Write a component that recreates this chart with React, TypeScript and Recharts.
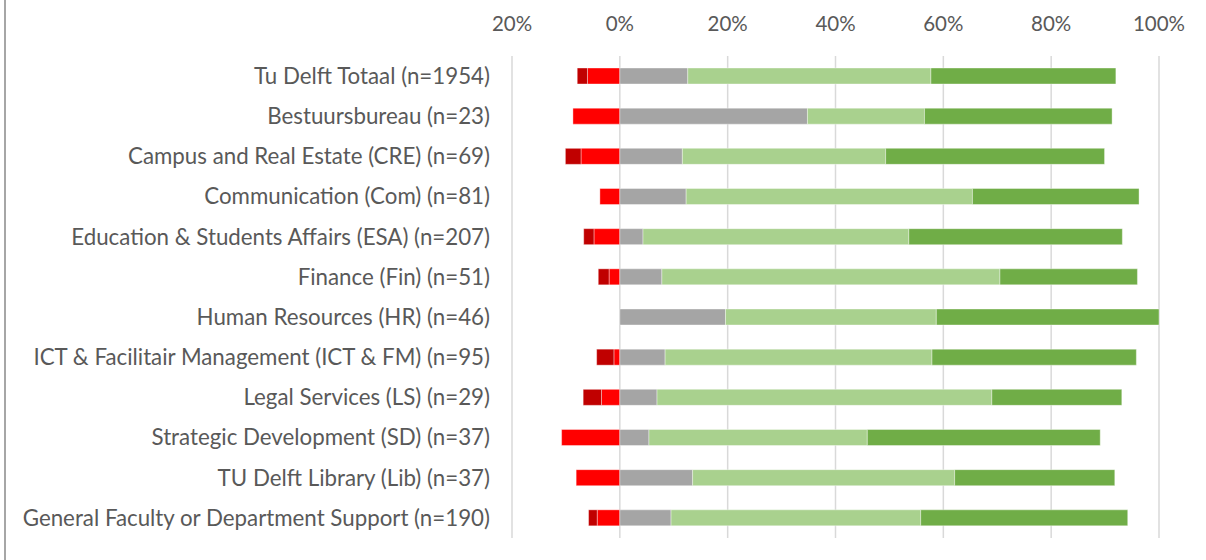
import React from "react";
import { BarChart, Bar, XAxis, YAxis, CartesianGrid } from "recharts";

const categories = [
  "Tu Delft Totaal (n=1954)",
  "Bestuursbureau (n=23)",
  "Campus and Real Estate (CRE) (n=69)",
  "Communication (Com) (n=81)",
  "Education & Students Affairs (ESA) (n=207)",
  "Finance (Fin) (n=51)",
  "Human Resources (HR) (n=46)",
  "ICT & Facilitair Management (ICT & FM) (n=95)",
  "Legal Services (LS) (n=29)",
  "Strategic Development (SD) (n=37)",
  "TU Delft Library (Lib) (n=37)",
  "General Faculty or Department Support (n=190)",
];

const disagree = [-6.0, -8.7, -7.2, -3.7, -4.8, -2.0, 0, -1.1, -3.4, -10.8, -8.1, -4.2];
const stronglyDisagree = [-1.9, 0, -2.9, 0, -1.9, -2.0, 0, -3.2, -3.4, 0, 0, -1.6];
const neutral = [12.6, 34.8, 11.6, 12.3, 4.3, 7.8, 19.6, 8.4, 6.9, 5.4, 13.5, 9.5];
const agree = [45.1, 21.7, 37.7, 53.1, 49.3, 62.7, 39.1, 49.5, 62.1, 40.5, 48.6, 46.3];
const stronglyAgree = [34.3, 34.8, 40.6, 30.9, 39.6, 25.5, 41.3, 37.9, 24.1, 43.2, 29.7, 38.4];

const xTicks = [-20, 0, 20, 40, 60, 80, 100];

const data = categories.map((name, i) => ({
  name,
  disagree: disagree[i],
  stronglyDisagree: stronglyDisagree[i],
  neutral: neutral[i],
  agree: agree[i],
  stronglyAgree: stronglyAgree[i],
}));

const textColor = "#595959";

export default function App() {
  return (
    <div style={{ position: "absolute", left: 0, top: 0, width: 1206, height: 560, background: "#fff", fontFamily: "Lato, 'Open Sans', sans-serif" }}>
      <div style={{ position: "absolute", left: 4, top: 0, width: 2, height: 560, background: "#a6a6a6" }} />
      <BarChart
        width={1206}
        height={560}
        data={data}
        layout="vertical"
        stackOffset="sign"
        barSize={16}
        margin={{ top: 0, right: 47, bottom: 22, left: 0 }}
      >
        <CartesianGrid horizontal={false} vertical stroke="#d9d9d9" strokeWidth={1.5} />
        <XAxis
          type="number"
          orientation="top"
          domain={[-20, 100]}
          ticks={xTicks}
          allowDataOverflow
          axisLine={false}
          tickLine={false}
          tickSize={0}
          tickMargin={25}
          height={56}
          tickFormatter={(v: number) => `${Math.abs(v)}%`}
          tick={{ fill: textColor, fontSize: 20.5 }}
        />
        <YAxis
          type="category"
          dataKey="name"
          width={512}
          axisLine={false}
          tickLine={false}
          tickSize={0}
          tickMargin={22}
          interval={0}
          tick={{ fill: textColor, fontSize: 22.3 }}
        />
        <Bar dataKey="disagree" stackId="a" fill="#ff0000" stroke="#ffffff" strokeOpacity={0.5} strokeWidth={0.75} isAnimationActive={false} />
        <Bar dataKey="stronglyDisagree" stackId="a" fill="#c00000" stroke="#ffffff" strokeOpacity={0.5} strokeWidth={0.75} isAnimationActive={false} />
        <Bar dataKey="neutral" stackId="a" fill="#a5a5a5" stroke="#ffffff" strokeOpacity={0.5} strokeWidth={0.75} isAnimationActive={false} />
        <Bar dataKey="agree" stackId="a" fill="#a9d18e" stroke="#ffffff" strokeOpacity={0.5} strokeWidth={0.75} isAnimationActive={false} />
        <Bar dataKey="stronglyAgree" stackId="a" fill="#70ad47" stroke="#ffffff" strokeOpacity={0.5} strokeWidth={0.75} isAnimationActive={false} />
      </BarChart>
    </div>
  );
}
